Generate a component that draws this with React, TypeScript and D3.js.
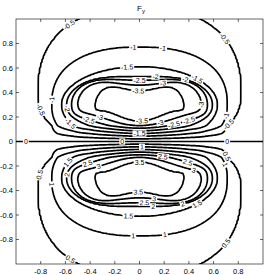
import React, { useMemo } from 'react';
import * as d3 from 'd3';

const W = 266, H = 275;
const M = { left: 16, right: 263, top: 19, bottom: 264 };

const contourLevels = [-3.5, -3, -2.5, -2, -1.5, -1, -0.5, 0, 0.5, 1, 1.5, 2, 2.5, 3, 3.5];
const xTicks = [-0.8, -0.6, -0.4, -0.2, 0, 0.2, 0.4, 0.6, 0.8];
const yTicks = [-0.8, -0.6, -0.4, -0.2, 0, 0.2, 0.4, 0.6, 0.8];

// |F_y| level shapes (upper half; lower half mirrors with opposite sign)
const shapeLevel = [0, 0.5, 1, 1.5, 2, 2.5, 3, 3.5, 3.9];
const shapeCenter = [0.40, 0.40, 0.30, 0.30, 0.30, 0.30, 0.31, 0.295, 0.30];
const shapeHalfWidth = [2.5, 0.82, 0.71, 0.63, 0.59, 0.55, 0.50, 0.36, 0.002];
const shapeHalfTop = [2.5, 0.69, 0.47, 0.31, 0.23, 0.20, 0.15, 0.12, 0.002];
const shapeHalfBottom = [2.5, 0.45, 0.38, 0.33, 0.24, 0.20, 0.18, 0.13, 0.002];
const shapeExponent = [2, 2.4, 2.4, 2.0, 2.2, 2.5, 2.5, 2.6, 2.6];
const shapeBulge = [0, 0, 0, 0, 0.015, 0.03, 0.045, 0.05, 0.05];
const layerDepth = 0.13;

// inline label anchors: [level, x, y]
const labelAnchors: [number, number, number][] = [
  [-0.5, -0.545, 0.92], [-0.5, 0.647, 0.81], [-1, -0.05, 0.765], [-1, 0.19, 0.74],
  [-1.5, -0.10, 0.61], [-1.5, 0.46, 0.49], [-2, 0.125, 0.52], [-2, 0.365, 0.50],
  [-2.5, 0.0, 0.49], [-3, 0.19, 0.46], [-3.5, -0.01, 0.415], [-3, 0.50, 0.30],
  [-1, -0.665, 0.34], [-0.5, -0.80, 0.26], [-2, -0.57, 0.27], [-1.5, -0.57, 0.135],
  [-2.5, -0.41, 0.19], [-3, -0.32, 0.20], [-3.5, 0.02, 0.16], [-2.5, 0.39, 0.19],
  [-1, 0.67, 0.22], [-0.5, 0.73, 0.135], [-3, 0.18, 0.11], [-2.5, 0.29, 0.09],
  [-1.5, 0.0, 0.05], [0, -0.92, 0], [0, 0.714, 0], [0, -0.14, 0],
  [0.5, -0.80, -0.27], [1.5, -0.585, -0.17], [1, -0.68, -0.35], [2, -0.57, -0.27],
  [2.5, -0.41, -0.20], [3, -0.33, -0.22], [3.5, 0.0, -0.17], [2.5, 0.19, -0.10],
  [2.5, 0.38, -0.20], [3, 0.43, -0.28], [0.5, 0.714, -0.12], [1, 0.67, -0.20],
  [3.5, -0.01, -0.43], [3, 0.125, -0.45], [2.5, 0.045, -0.49], [2, 0.35, -0.51],
  [2, 0.11, -0.55], [1.5, 0.465, -0.50], [1.5, -0.09, -0.63], [1, -0.05, -0.78],
  [1, 0.205, -0.75], [0.5, 0.67, -0.81], [0.5, -0.545, -0.94], [1, 0.02, -0.04],
];

type Shape = { c: number; a: number; bt: number; bb: number; n: number; k: number };

function shapeAt(v: number): Shape {
  let i = 0;
  while (i < shapeLevel.length - 2 && v > shapeLevel[i + 1]) i++;
  const t = Math.max(0, Math.min(1, (v - shapeLevel[i]) / (shapeLevel[i + 1] - shapeLevel[i])));
  const l = (arr: number[]) => arr[i] + (arr[i + 1] - arr[i]) * t;
  return { c: l(shapeCenter), a: l(shapeHalfWidth), bt: l(shapeHalfTop), bb: l(shapeHalfBottom), n: l(shapeExponent), k: l(shapeBulge) };
}

function inside(x: number, y: number, s: Shape) {
  const ax = Math.abs(x);
  if (ax >= s.a) return false;
  const t = ax / s.a;
  const w = 4 * t * t * (1 - t * t);
  const d = y - (s.c + s.k * w);
  const b = d > 0 ? s.bt : s.bb;
  return Math.pow(t, s.n) + Math.pow(Math.abs(d) / b, s.n) <= 1;
}

function magnitude(x: number, y: number) {
  let lo = 0, hi = shapeLevel[shapeLevel.length - 1];
  if (!inside(x, y, shapeAt(0))) return 0;
  for (let k = 0; k < 26; k++) {
    const mid = (lo + hi) / 2;
    if (inside(x, y, shapeAt(mid))) lo = mid; else hi = mid;
  }
  return lo;
}

function field(x: number, y: number) {
  if (y === 0) return 0;
  const u = Math.abs(y);
  const m = magnitude(x, Math.max(u, layerDepth)) * Math.min(u, layerDepth) / layerDepth;
  return y > 0 ? -m : m;
}

const fmt = (v: number) => String(v);
const textWidth = (s: string, fs: number) =>
  s.split('').reduce((acc, ch) => acc + (ch === '-' ? 0.333 : ch === '.' ? 0.278 : 0.556) * fs, 0);

export default function App() {
  const x = d3.scaleLinear().domain([-1, 1]).range([M.left, M.right]);
  const y = d3.scaleLinear().domain([-1, 1]).range([M.bottom, M.top]);

  const { paths, labels } = useMemo(() => {
    const n = 205, x0 = -1.02, step = 0.01;
    const values = new Float64Array(n * n);
    for (let j = 0; j < n; j++) {
      const yy = (j - 102) * step;
      for (let i = 0; i < n; i++) values[j * n + i] = field(x0 + i * step, yy);
    }
    const cs = d3.contours().size([n, n]).thresholds(contourLevels)(Array.from(values));
    const toPx = (gx: number, gy: number): [number, number] => [
      x(x0 + (gx - 0.5) * step),
      y(x0 + (gy - 0.5) * step),
    ];
    const proj = d3.geoTransform({
      point(px: number, py: number) {
        const p = toPx(px, py);
        (this as any).stream.point(p[0], p[1]);
      },
    });
    const pathGen = d3.geoPath(proj as any);
    const paths = cs.map((c) => ({ v: c.value, d: pathGen(c as any) || '' }));

    const labels = labelAnchors.map(([lv, ax, ay], idx) => {
      const c = cs.find((cc) => Math.abs(cc.value - lv) < 1e-9);
      const tx = x(ax), ty = y(ay);
      let best = { d: Infinity, px: tx, py: ty, ang: 0 };
      if (c) {
        for (const poly of c.coordinates) {
          for (const ring of poly) {
            const pts = ring.map((p: number[]) => toPx(p[0], p[1]));
            const L = pts.length;
            for (let k = 0; k < L; k++) {
              const [px, py] = pts[k];
              if (px < M.left + 2 || px > M.right - 2 || py < M.top + 2 || py > M.bottom - 2) continue;
              const dd = (px - tx) ** 2 + (py - ty) ** 2;
              if (dd < best.d) {
                const a = pts[(k - 3 + L) % L], b = pts[(k + 3) % L];
                let ang = (Math.atan2(b[1] - a[1], b[0] - a[0]) * 180) / Math.PI;
                if (ang > 90) ang -= 180;
                if (ang < -90) ang += 180;
                best = { d: dd, px, py, ang };
              }
            }
          }
        }
      }
      return { key: idx, text: fmt(lv), ...best };
    });
    return { paths, labels };
  }, []);

  const font = "'Liberation Sans', Arial, Helvetica, sans-serif";
  const lfs = 7;

  return (
    <svg width={W} height={H} style={{ position: 'absolute', left: 0, top: 0, background: '#fff' }}>
      <defs>
        <clipPath id="plotClip">
          <rect x={M.left} y={M.top} width={M.right - M.left} height={M.bottom - M.top} />
        </clipPath>
      </defs>
      <rect x={0} y={0} width={W} height={H} fill="#fff" />
      <g clipPath="url(#plotClip)">
        {paths.map((p) => (
          <path key={p.v} d={p.d} fill="none" stroke="#000" strokeWidth={1.7} strokeLinejoin="round" />
        ))}
        {labels.map((l) => {
          const w = textWidth(l.text, lfs) + 2;
          return (
            <g key={l.key} transform={`translate(${l.px},${l.py}) rotate(${l.ang})`}>
              <rect x={-w / 2} y={-3.2} width={w} height={6.4} fill="#fff" />
              <text x={0} y={2.5} textAnchor="middle" fontSize={lfs} fontFamily={font} fill="#000">
                {l.text}
              </text>
            </g>
          );
        })}
      </g>
      <rect x={M.left} y={M.top} width={M.right - M.left} height={M.bottom - M.top} fill="none" stroke="#000" strokeWidth={0.6} />
      {xTicks.map((t) => (
        <g key={'x' + t}>
          <line x1={x(t)} x2={x(t)} y1={M.bottom} y2={M.bottom - 3} stroke="#000" strokeWidth={0.6} />
          <line x1={x(t)} x2={x(t)} y1={M.top} y2={M.top + 3} stroke="#000" strokeWidth={0.6} />
          <text x={x(t)} y={273.5} textAnchor="middle" fontSize={7.5} fontFamily={font} fill="#000">
            {fmt(t)}
          </text>
        </g>
      ))}
      {yTicks.map((t) => (
        <g key={'y' + t}>
          <line x1={M.left} x2={M.left + 3} y1={y(t)} y2={y(t)} stroke="#000" strokeWidth={0.6} />
          <line x1={M.right} x2={M.right - 3} y1={y(t)} y2={y(t)} stroke="#000" strokeWidth={0.6} />
          <text x={13} y={y(t) + 2.7} textAnchor="end" fontSize={7.5} fontFamily={font} fill="#000">
            {fmt(t)}
          </text>
        </g>
      ))}
      <text x={137} y={10.5} fontSize={8} fontFamily={font} fill="#000">
        F<tspan fontSize={6} dy={2.2}>y</tspan>
      </text>
    </svg>
  );
}
